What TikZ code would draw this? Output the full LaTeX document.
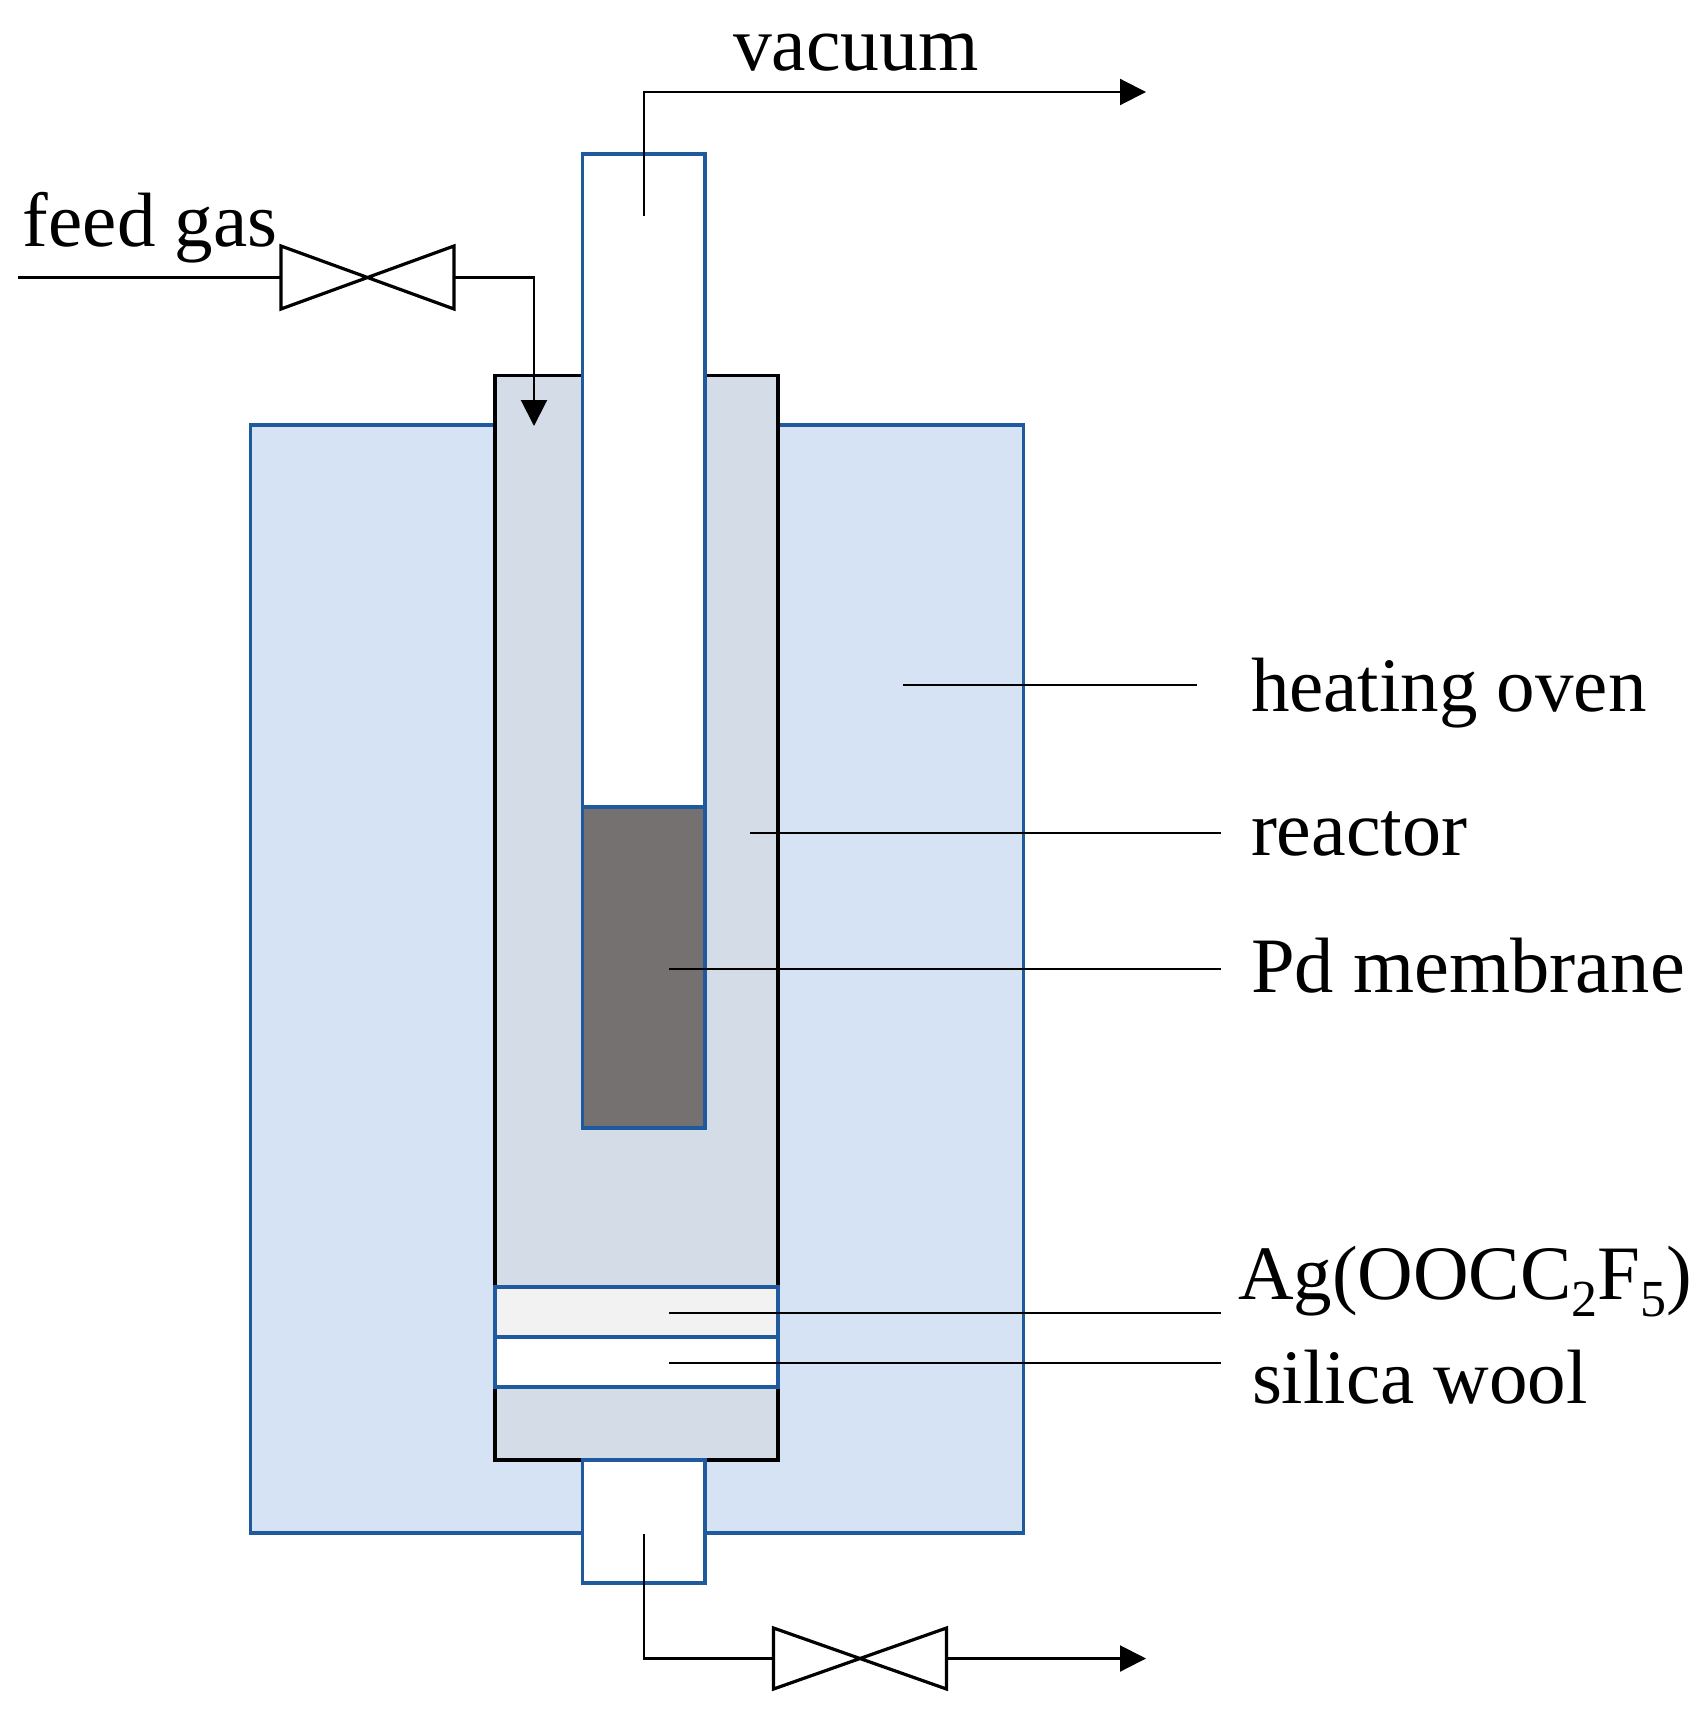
\documentclass[tikz,border=0pt]{standalone}
\usepackage{fontspec}
\setmainfont{Liberation Serif}
\usetikzlibrary{arrows.meta}
\definecolor{ovenfill}{HTML}{D6E3F4}
\definecolor{reactorfill}{HTML}{D3DCE7}
\definecolor{bluepen}{HTML}{1F5A9E}
\definecolor{membranefill}{HTML}{767171}
\definecolor{agfill}{HTML}{F2F2F2}
\tikzset{
  x=1pt,y=-1pt,
  bluebox/.style={draw=bluepen,line width=3.2pt,inner sep=0pt,outer sep=0pt,anchor=north west},
  blackbox/.style={draw=black,line width=3.8pt,inner sep=0pt,outer sep=0pt,anchor=north west,fill=reactorfill},
  valvebox/.style={inner sep=0pt,outer sep=0pt,anchor=north west},
  valvepen/.style={draw=black,line width=3.2pt,fill=white,line join=miter},
  thinline/.style={draw=black,line width=2.1pt},
  flow/.style={thinline,-{Triangle[length=26pt,width=26pt]}},
  txt/.style={anchor=base west,inner sep=0pt,outer sep=0pt,font=\fontsize{77}{90}\selectfont,text=black},
}
\newcommand{\boxat}[6]{\node[#1,minimum width=#4pt,minimum height=#5pt,#6] (#2) at #3 {};}
\newcommand{\subnum}[1]{\raisebox{-17pt}{\fontsize{52}{60}\selectfont #1}}
\begin{document}
\begin{tikzpicture}
\useasboundingbox (0,0) rectangle (1707,1715);
% heating oven
\boxat{bluebox}{oven}{(250.5,425)}{773}{1108}{fill=ovenfill}
% reactor
\boxat{blackbox}{reactor}{(495,375.5)}{283}{1084.5}{}
% upper tube and membrane
\boxat{bluebox}{tube}{(582.5,154)}{122.5}{653}{fill=white}
\boxat{bluebox}{membrane}{(582.5,807)}{122.5}{321}{fill=membranefill}
% packing layers
\boxat{bluebox}{agbed}{(495,1287)}{283}{50}{fill=agfill}
\boxat{bluebox}{wool}{(495,1337)}{283}{50}{fill=white}
% lower tube
\boxat{bluebox}{lower}{(582.5,1460)}{122.5}{123}{fill=white}
% valves
\node[valvebox,minimum width=173pt,minimum height=63pt] (vtop) at (281,246) {};
\node[valvebox,minimum width=173pt,minimum height=61pt] (vbot) at (773.5,1628) {};
% connector end points
\coordinate (feedstart) at (18,277.5);
\coordinate (feedin) at (534,426);
\coordinate (vacin) at (644,216);
\coordinate (vacout) at (1146,92);
\coordinate (lowin) at (644,1534);
\coordinate (lowout) at (1146,1658.5);
\coordinate (ovenA) at (903,685);   \coordinate (ovenB) at (1197,685);
\coordinate (reacA) at (750,833);   \coordinate (reacB) at (1221,833);
\coordinate (pdA) at (669,969);     \coordinate (pdB) at (1221,969);
\coordinate (agA) at (669,1313);    \coordinate (agB) at (1221,1313);
\coordinate (woolA) at (669,1363);  \coordinate (woolB) at (1221,1363);
% flows
\draw[thinline] (feedstart) -- (vtop.west);
\draw[flow] (vtop.east) -| (feedin);
\draw[flow] (vacin) |- (vacout);
\draw[thinline] (lowin) |- (vbot.west);
\draw[flow] (vbot.east) -- (lowout);
% valve bowties
\draw[valvepen] (vtop.north west) -- (vtop.south east) -- (vtop.north east) -- (vtop.south west) -- cycle;
\draw[valvepen] (vbot.north west) -- (vbot.south east) -- (vbot.north east) -- (vbot.south west) -- cycle;
% leaders
\draw[thinline] (ovenA) -- (ovenB);
\draw[thinline] (reacA) -- (reacB);
\draw[thinline] (pdA) -- (pdB);
\draw[thinline] (agA) -- (agB);
\draw[thinline] (woolA) -- (woolB);
% labels
\node[txt,font=\fontsize{77.6}{90}\selectfont] (tvac) at (733,71) {vacuum};
\node[txt] (tfeed) at (23,246) {feed gas};
\node[txt] (toven) at (1251,711) {heating oven};
\node[txt,font=\fontsize{78}{90}\selectfont] (treac) at (1251,855) {reactor};
\node[txt,font=\fontsize{78.5}{90}\selectfont] (tpd) at (1251,992) {Pd membrane};
\node[txt] (tag) at (1238,1299) {Ag(OOCC\subnum{2}F\subnum{5})};
\node[txt] (twool) at (1252,1403) {silica wool};
\end{tikzpicture}
\end{document}
